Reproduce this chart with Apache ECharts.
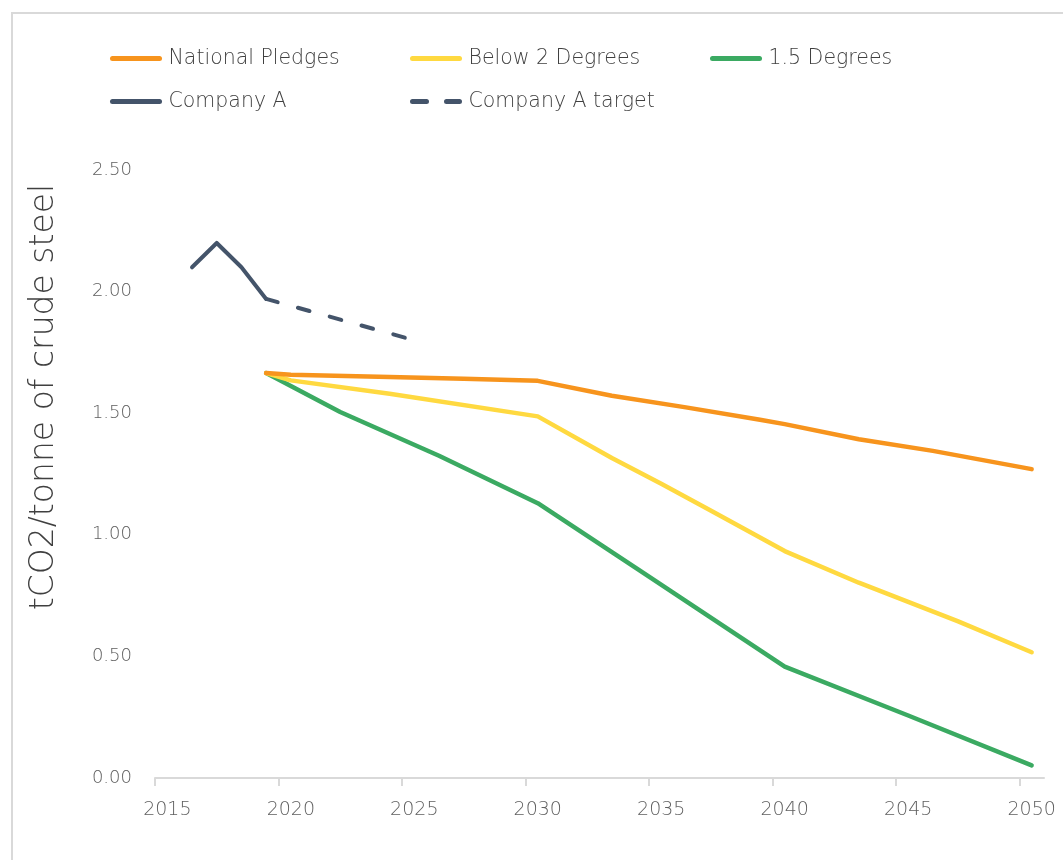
<!DOCTYPE html>
<html><head><meta charset="utf-8">
<script src="https://cdn.jsdelivr.net/npm/echarts@6/dist/echarts.min.js"></script>
<style>html,body{margin:0;padding:0;background:#fff}#c{width:1063px;height:860px}</style>
</head><body><div id="c"></div>
<script>
// ---- data ----
const xTickLabels = [2015, 2020, 2025, 2030, 2035, 2040, 2045, 2050];
const yTickLabels = ['0.00', '0.50', '1.00', '1.50', '2.00', '2.50'];
const seriesNames = ['National Pledges', 'Below 2 Degrees', '1.5 Degrees', 'Company A', 'Company A target'];

const nationalYears  = [2019, 2020, 2024, 2027, 2030, 2033, 2036, 2039, 2040, 2043, 2046, 2050];
const nationalValues = [1.665, 1.658, 1.649, 1.642, 1.633, 1.572, 1.524, 1.473, 1.455, 1.393, 1.345, 1.270];

const below2Years  = [2019, 2020, 2024, 2030, 2033, 2035, 2037, 2040, 2043, 2047, 2050];
const below2Values = [1.665, 1.635, 1.580, 1.487, 1.316, 1.210, 1.100, 0.933, 0.803, 0.645, 0.517];

const deg15Years  = [2019, 2022, 2026, 2030, 2034, 2040, 2045, 2050];
const deg15Values = [1.665, 1.505, 1.325, 1.130, 0.862, 0.458, 0.257, 0.052];

const companyYears  = [2016, 2017, 2018, 2019];
const companyValues = [2.10, 2.20, 2.10, 1.97];

const targetYears  = [2019, 2025];
const targetValues = [1.97, 1.80];

// ---- build ----
const pairs = (xs, ys) => xs.map((x, i) => [x, ys[i]]);
const colors = ['#F7941D', '#FFD940', '#3BAA62', '#44546A', '#44546A'];
const font = '"DejaVu Sans", "Noto Sans", sans-serif';
const fw = 200;

function lineSeries(idx, xs, ys, width, dashed) {
  return {
    name: seriesNames[idx], type: 'line', data: pairs(xs, ys),
    symbol: 'none', smooth: false, z: 10 - idx,
    color: colors[idx],
    lineStyle: { color: colors[idx], width: width, cap: 'round', join: 'round',
                 type: dashed ? [12, 21] : 'solid' },
    emphasis: { disabled: true }
  };
}

const solidIcon = 'path://M2.5,0H49.5A2.5,2.5 0 0 1 49.5,5H2.5A2.5,2.5 0 0 1 2.5,0Z';
const dashIcon = 'path://M2.5,0H16.5A2.5,2.5 0 0 1 16.5,5H2.5A2.5,2.5 0 0 1 2.5,0Z' +
                 'M36.5,0H49.5A2.5,2.5 0 0 1 49.5,5H36.5A2.5,2.5 0 0 1 36.5,0Z';

const legendPos = [
  { left: 110, top: 48 }, { left: 410, top: 48 }, { left: 710, top: 48 },
  { left: 110, top: 91 }, { left: 410, top: 91 }
];
const legends = seriesNames.map((n, i) => ({
  data: [n], left: legendPos[i].left, top: legendPos[i].top, padding: 0,
  itemWidth: 53, itemHeight: 5, selectedMode: false,
  icon: i === 4 ? dashIcon : solidIcon,
  itemStyle: { borderWidth: 0 },
  textStyle: { fontFamily: font, fontWeight: fw, fontSize: 20.5, color: '#404040',
               padding: [0, 0, 0, 1] }
}));

const tickPositions = xTickLabels.map(v => v - 0.5);

const option = {
  animation: false,
  backgroundColor: '#fff',
  legend: legends,
  graphic: [{
    type: 'rect', shape: { x: 12, y: 13, width: 1100, height: 900 },
    style: { fill: 'none', stroke: '#D9D9D9', lineWidth: 2 }, silent: true, z: -1
  }],
  grid: { left: 155, right: 19, top: 170, bottom: 82, containLabel: false },
  xAxis: {
    type: 'value', min: 2014.5, max: 2050.5,
    axisLine: { show: true, lineStyle: { color: '#D9D9D9', width: 2 } },
    axisTick: { show: true, length: 8, customValues: tickPositions,
                lineStyle: { color: '#D9D9D9', width: 2 } },
    axisLabel: { customValues: xTickLabels, color: '#606060', fontFamily: font, fontWeight: fw,
                 fontSize: 19, margin: 23, formatter: v => String(Math.round(v)) },
    splitLine: { show: false }
  },
  yAxis: {
    type: 'value', min: 0, max: 2.5, interval: 0.5,
    name: 'tCO2/tonne of crude steel', nameLocation: 'middle', nameGap: 94,
    nameTextStyle: { fontFamily: font, fontWeight: fw, fontSize: 33, color: '#404040',
                     padding: [0, 0, 0, 154] },
    axisLine: { show: false }, axisTick: { show: false },
    axisLabel: { color: '#606060', fontFamily: font, fontWeight: fw, fontSize: 18, margin: 23,
                 formatter: v => yTickLabels[Math.round(v / 0.5)] },
    splitLine: { show: false }
  },
  series: [
    lineSeries(0, nationalYears, nationalValues, 4.5, false),
    lineSeries(1, below2Years, below2Values, 4.5, false),
    lineSeries(2, deg15Years, deg15Values, 4.5, false),
    lineSeries(3, companyYears, companyValues, 4, false),
    lineSeries(4, targetYears, targetValues, 4, true)
  ]
};

const chart = echarts.init(document.getElementById('c'), null, { renderer: 'canvas' });
chart.setOption(option);
</script>
</body></html>
